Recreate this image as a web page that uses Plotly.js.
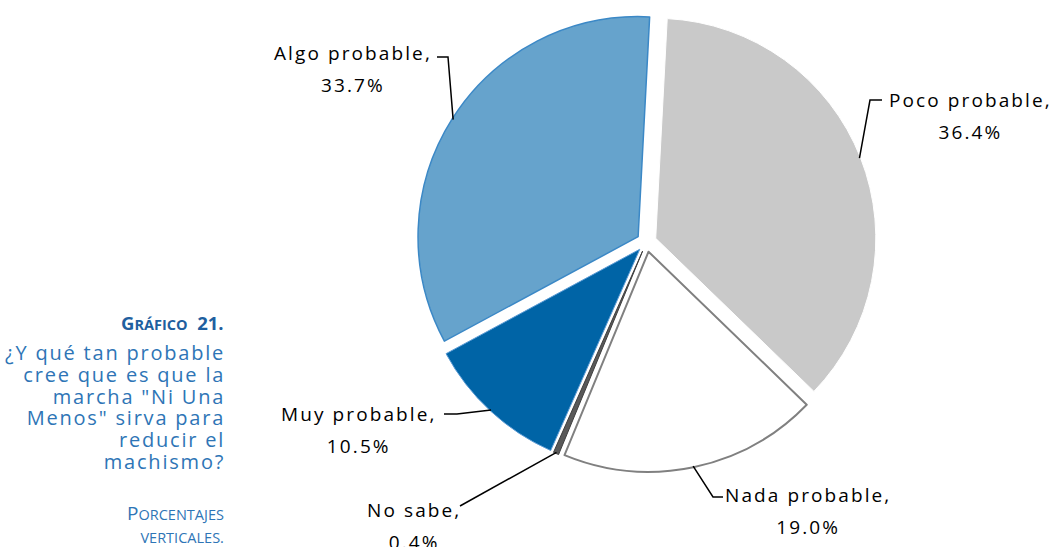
<!DOCTYPE html>
<html><head><meta charset="utf-8">
<script src="https://cdn.plot.ly/plotly-3.0.1.min.js"></script>
<style>html,body{margin:0;padding:0;background:#fff;overflow:hidden}#chart{width:1054px;height:547px}</style>
</head><body><div id="chart"></div>
<script>
// ---- data ----
const categories = ["Poco probable", "Nada probable", "No sabe", "Muy probable", "Algo probable"];
const values = [36.4, 19.0, 0.4, 10.5, 33.7];
const valueLabels = ["36.4%", "19.0%", "0.4%", "10.5%", "33.7%"];
const titleWord = "Gráfico";
const titleNumber = "21.";
const questionLines = ["¿Y qué tan probable", "cree que es que la", "marcha \"Ni Una", "Menos\" sirva para", "reducir el", "machismo?"];
const footerLines = ["Porcentajes", "verticales."];

// ---- styles / layout ----
const W = 1054, H = 547;
const sliceColors = ["#C9C9C9", "#FFFFFF", "#595959", "#0064A6", "#66A3CC"];
const lineColors = ["#FFFFFF", "#808080", "#3F3F3F", "#5B9BD5", "#3B88C6"];
const lineWidths = [1, 2, 1, 1, 1.5];
const pull = 0.045;
const rotation = 3;
const cx = 646.5, cy = 242, half = 230;     // pie box in pixels
const FAM = "Open Sans, sans-serif";
// label block centre in pixels, and elbow / end of leader line
const labelPos = [[970, 116], [808, 511], [414, 526], [359, 430], [353, 69]];
const elbow = [[[870, 100], [882, 100]], [[713, 497], [723, 497]], [[460, 506], [460, 506]], [[457, 414], [444, 414]], [[448, 57], [437, 57]]];

const px = x => x / W, py = y => 1 - y / H;
// span with size and letter spacing; base font size sets the line pitch (1.3 em)
const st = (t, size, ls) => "<span style=\"font-size:" + size + "px;letter-spacing:" + ls + "\">" + t + "</span>";

const total = values.reduce((a, b) => a + b, 0);
const r = half / (1 + pull);
const annotations = [], shapes = [];
let cum = 0;
values.forEach((v, i) => {
  const th = (rotation * Math.PI / 180) + 2 * Math.PI * (cum + v / 2) / total;
  cum += v;
  const d = r * (1 + pull) * 0.995;
  const ex = cx + d * Math.sin(th), ey = cy - d * Math.cos(th);
  const pts = [[ex, ey]].concat(elbow[i]);
  const path = pts.map((p, k) => (k ? "L" : "M") + px(p[0]) + "," + py(p[1])).join(" ");
  shapes.push({type: "path", xref: "paper", yref: "paper", path: path, line: {color: "#000000", width: 1.5}});
  annotations.push({xref: "paper", yref: "paper", x: px(labelPos[i][0]), y: py(labelPos[i][1]), xanchor: "center", yanchor: "middle",
    align: "center", showarrow: false, font: {family: FAM, size: 24.6, color: "#000000"},
    text: st(categories[i] + ",", 19, "2.1px") + "<br>" + st(valueLabels[i], 19, "2.1px")});
});

// fake small caps: first letter large, rest uppercase smaller
function smallCaps(t, big, small, firstBig) {
  let out = "";
  Array.from(t).forEach((c, k) => {
    const isBig = firstBig && k === 0;
    out += "<span style=\"font-size:" + (isBig ? big : small) + "px\">" + c.toUpperCase() + "</span>";
  });
  return out;
}

const textRight = 226;
annotations.push({xref: "paper", yref: "paper", x: px(textRight), y: py(322), xanchor: "right", yanchor: "middle", showarrow: false,
  text: "<b>" + smallCaps(titleWord, 18.5, 14.5, true) + "  " + titleNumber + "</b>",
  font: {family: FAM, size: 18.5, color: "#1F5F9F"}});
annotations.push({xref: "paper", yref: "paper", x: px(textRight + 1), y: py(352 + 2.5 * 21.8), xanchor: "right", yanchor: "middle",
  align: "right", showarrow: false, font: {family: FAM, size: 16.77, color: "#2E75B6"},
  text: questionLines.map(t => st(t, 20, "1.8px")).join("<br>")});
annotations.push({xref: "paper", yref: "paper", x: px(textRight), y: py(512 + 11.5), xanchor: "right", yanchor: "middle",
  align: "right", showarrow: false, font: {family: FAM, size: 17.7, color: "#2E75B6"},
  text: footerLines.map((t, k) => smallCaps(t, 19, 14.5, k === 0)).join("<br>")});

const trace = {
  type: "pie",
  labels: categories,
  values: values,
  sort: false,
  direction: "clockwise",
  rotation: rotation,
  pull: values.map(() => pull),
  textinfo: "none",
  hoverinfo: "label+percent",
  marker: {colors: sliceColors, line: {color: lineColors, width: lineWidths}},
  domain: {x: [px(cx - half), px(cx + half)], y: [py(cy + half), py(cy - half)]}
};

const layout = {
  width: W, height: H,
  margin: {l: 0, r: 0, t: 0, b: 0},
  paper_bgcolor: "#FFFFFF",
  showlegend: false,
  annotations: annotations,
  shapes: shapes
};

Plotly.newPlot("chart", [trace], layout, {displayModeBar: false, staticPlot: true});
</script>
</body></html>
